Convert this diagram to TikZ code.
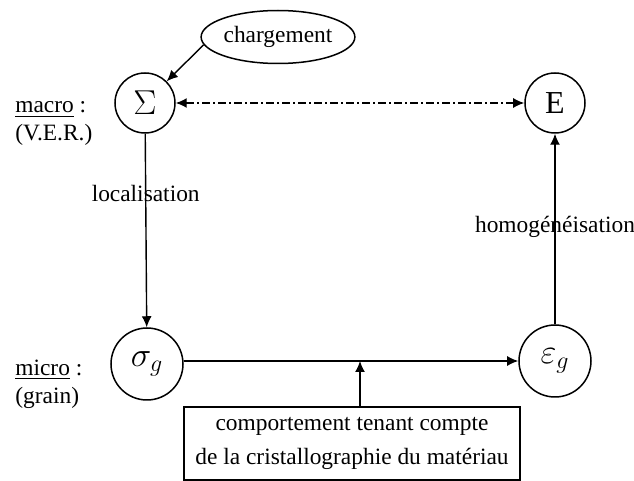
\documentclass[tikz,border=0pt]{standalone}
\usepackage{fontspec}
\setmainfont{Liberation Serif}
\usepackage{amsmath}
\usetikzlibrary{arrows.meta,shapes.geometric}

\tikzset{
  lbl/.style={anchor=west,inner sep=0pt,font=\fontsize{11.7}{14}\selectfont},
  bigvar/.style={draw,circle,line width=0.75pt,minimum size=30pt,inner sep=0pt,font=\fontsize{16}{18}\selectfont},
  grainvar/.style={draw,circle,line width=0.75pt,minimum size=36pt,inner sep=0pt,font=\LARGE},
  conn/.style={line width=0.7pt,-{Latex[length=5.5pt,width=5pt]}},
}

\begin{document}
\begin{tikzpicture}[x=0.5pt,y=-0.5pt]
  \useasboundingbox (0,0) rectangle (634,481);

  % Draw variables
  \node[bigvar] (S) at (145,103) {$\Sigma$};
  \node[bigvar] (E) at (555,103) {E};
  \node[grainvar] (sg) at (147,364) {$\sigma_{g}$};
  \node[grainvar] (eg) at (555,361) {$\varepsilon_{g}$};

  % Loading and behaviour
  \node[draw,ellipse,line width=0.75pt,minimum width=71.5pt,minimum height=26.5pt,inner sep=0pt,
        font=\fontsize{11.7}{14}\selectfont] (ch) at (278,37) {chargement};
  \node[draw,line width=0.75pt,minimum width=168pt,minimum height=36.5pt,align=center,
        font=\fontsize{11.7}{17}\selectfont] (box) at (352,443.5)
        {comportement tenant compte\\de la cristallographie du matériau};

  % Scale labels
  \node[lbl] (macro) at (15,110) {\underline{macro} :};
  \node[lbl] (ver) at (15,135) {(V.E.R.)};
  \node[lbl] (micro) at (15,370) {\underline{micro} :};
  \node[lbl] (grain) at (15,398) {(grain)};

  % Draw connectors
  \draw[conn] (ch.186) -- (S.45);
  \draw[line width=0.7pt,{Latex[length=5.5pt,width=5pt]}-{Latex[length=5.5pt,width=5pt]},
        dash pattern=on 4pt off 1.5pt on 1pt off 1.5pt] (S) -- (E);
  \draw[conn] (S) -- node[pos=0.31,inner sep=0pt,font=\fontsize{11.7}{14}\selectfont] (loc) {localisation} (sg);
  \draw[conn] (eg) -- node[pos=0.51,inner sep=0pt,font=\fontsize{11.7}{14}\selectfont] (hom) {homogénéisation} (E);
  \draw[conn] (sg.east |- eg) -- (eg);
  \coordinate (mid) at (360,361);
  \draw[conn] (box.north -| mid) -- (mid);
\end{tikzpicture}
\end{document}
